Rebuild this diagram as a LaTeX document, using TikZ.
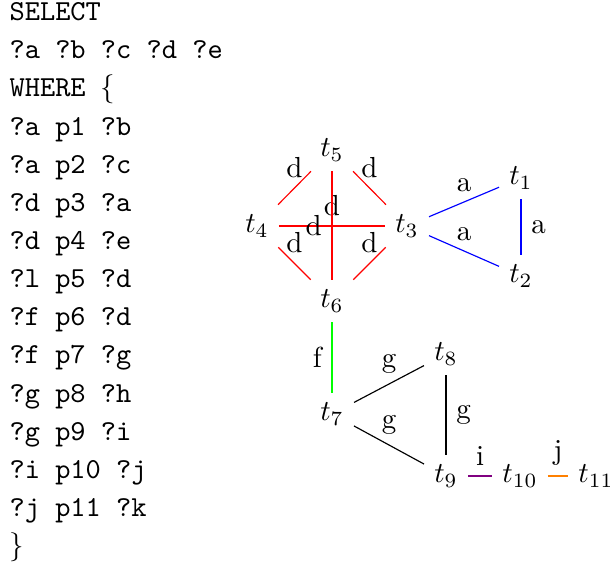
\documentclass[tikz,border=0pt]{standalone}
\begin{document}
\begin{tikzpicture}[x=0.3448pt,y=-0.3448pt,
  tn/.style={inner sep=3.333pt},
  lab/.style={text=black},
  red edge/.style={draw=red},
  blue edge/.style={draw=blue},
  black edge/.style={draw=black}]
\useasboundingbox (0,0) rectangle (610,567);
\node[anchor=north west, align=left, font={\ttfamily\fontsize{10}{13.15}\selectfont}, inner sep=0pt] (code) at (9,2)
 {SELECT\\
  ?a ?b ?c ?d ?e\\
  WHERE $\{$\\
  ?a p1 ?b\\
  ?a p2 ?c\\
  ?d p3 ?a\\
  ?d p4 ?e\\
  ?l p5 ?d\\
  ?f p6 ?d\\
  ?f p7 ?g\\
  ?g p8 ?h\\
  ?g p9 ?i\\
  ?i p10 ?j\\
  ?j p11 ?k\\
  $\}$};
\node[tn] (t5) at (332,150) {$t_5$};
\node[tn] (t4) at (257,226) {$t_4$};
\node[tn] (t3) at (407,226) {$t_3$};
\node[tn] (t6) at (332,301) {$t_6$};
\node[tn] (t1) at (521,178) {$t_1$};
\node[tn] (t2) at (521,276) {$t_2$};
\node[tn] (t7) at (332,414) {$t_7$};
\node[tn] (t8) at (446,354) {$t_8$};
\node[tn] (t9) at (446,476) {$t_9$};
\node[tn] (t10) at (520,476) {$t_{10}$};
\node[tn] (t11) at (596,476) {$t_{11}$};
\draw[red edge] (t4) -- node[lab,above] (l1) {d} (t5);
\draw[red edge] (t5) -- node[lab,above] (l2) {d} (t3);
\draw[red edge] (t4) -- node[lab,above] (l3) {d} (t6);
\draw[red edge] (t3) -- node[lab,above] (l4) {d} (t6);
\draw[red edge] (t4) -- node[lab,above] (l5) {d} (t3);
\draw[red edge] (t5) -- node[lab,left] (l6) {d} (t6);
\draw[blue edge] (t3) -- node[lab,above] (l7) {a} (t1);
\draw[blue edge] (t3) -- node[lab,above] (l8) {a} (t2);
\draw[blue edge] (t1) -- node[lab,right] (l9) {a} (t2);
\draw[green] (t6) -- node[lab,left] (l10) {f} (t7);
\draw[black edge] (t7) -- node[lab,above] (l11) {g} (t8);
\draw[black edge] (t7) -- node[lab,above] (l12) {g} (t9);
\draw[black edge] (t8) -- node[lab,right] (l13) {g} (t9);
\draw[violet] (t9) -- node[lab,above] (l14) {i} (t10);
\draw[orange] (t10) -- node[lab,above] (l15) {j} (t11);
\end{tikzpicture}
\end{document}
